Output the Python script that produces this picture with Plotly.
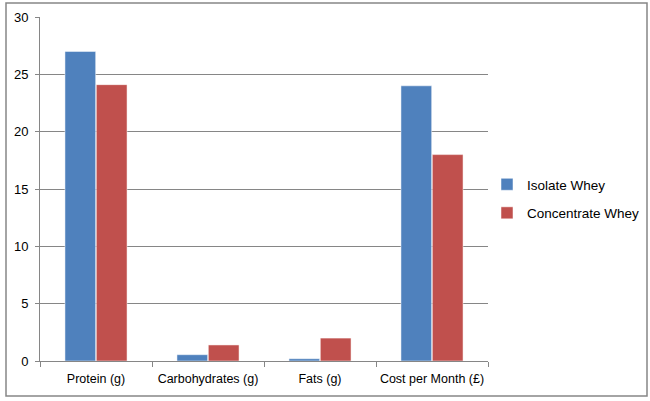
import plotly.graph_objects as go

categories = ["Protein (g)", "Carbohydrates (g)", "Fats (g)", "Cost per Month (£)"]
isolate_whey = [27, 0.55, 0.2, 24]
concentrate_whey = [24.1, 1.4, 2, 18]
y_ticks = [0, 5, 10, 15, 20, 25, 30]

W, H = 650, 401
L, R, T, B = 40, 162, 17, 40
pw, ph = W - L - R, H - T - B

fig = go.Figure()
fig.add_trace(go.Bar(name="Isolate Whey", x=categories, y=isolate_whey,
                     marker=dict(color="#4F81BD", line=dict(color="white", width=0.5)),
                     legendgroup="a"))
fig.add_trace(go.Bar(name="Concentrate Whey", x=categories, y=concentrate_whey,
                     marker=dict(color="#C0504D", line=dict(color="white", width=0.5)),
                     legendgroup="b"))

fig.update_layout(
    width=W, height=H,
    margin=dict(l=L, r=R, t=T, b=B, autoexpand=False),
    paper_bgcolor="white", plot_bgcolor="white",
    font=dict(family="Liberation Sans, Arial, sans-serif", size=12.5, color="#000000"),
    barmode="group", bargap=0.44, bargroupgap=0.02,
    showlegend=True,
    legend=dict(x=(487 - L) / pw, xanchor="left", y=(361 - 199) / ph, yanchor="middle",
                font=dict(size=13.5), tracegroupgap=8, itemwidth=30,
                bgcolor="rgba(0,0,0,0)"),
    xaxis=dict(showline=True, linecolor="#868686", linewidth=1, ticks="outside",
               tickson="boundaries", ticklen=5, tickcolor="#868686", showgrid=False,
               tickangle=0, automargin=False, tickfont=dict(size=12.5),
               ticklabelstandoff=6, fixedrange=True),
    yaxis=dict(range=[0, 30], tickvals=y_ticks, showline=True, linecolor="#868686",
               linewidth=1, ticks="outside", ticklen=4, tickcolor="#868686",
               showgrid=True, gridcolor="#868686", gridwidth=1, zeroline=False,
               automargin=False, ticklabelstandoff=4, tickfont=dict(size=13),
               fixedrange=True),
)

# outer chart border
fig.add_shape(type="rect", xref="paper", yref="paper",
              x0=(6 - L) / pw, x1=(647 - L) / pw,
              y0=(H - B - 396) / ph, y1=(H - B - 3) / ph,
              line=dict(color="#868686", width=1.5), fillcolor="rgba(0,0,0,0)", layer="below")

fig.write_html("out.html", config={"displayModeBar": False},
               post_script="document.body.style.margin='0';document.body.style.overflow='hidden';")
